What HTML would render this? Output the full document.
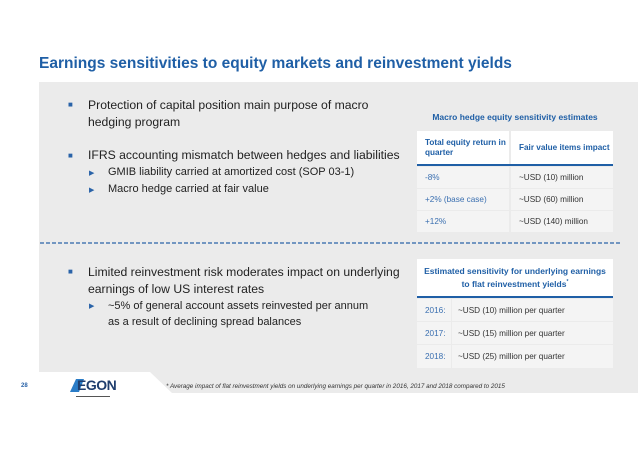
<!DOCTYPE html>
<html><head><meta charset="utf-8"><style>
body{margin:0;width:638px;height:451px;background:#fff;font-family:"Liberation Sans",sans-serif;position:relative;overflow:hidden}
.a{position:absolute;white-space:nowrap}
.t{font-size:12.2px;color:#222}
.b{color:#2a63a8;font-size:8px}
.s{font-size:11px;color:#222}
.ar{color:#2a63a8;font-size:7px}
.c{position:absolute;background:#f4f4f4;font-size:8.2px;color:#333;box-sizing:border-box;padding-left:8px;display:flex;align-items:center}
.bl{color:#3a6fb0}
</style></head><body>
<svg class="a" style="left:0;top:0" width="638" height="451">
<polygon points="39,82 638,82 638,393 172,393 150,372 39,372" fill="#ebebeb"/>
<line x1="40" y1="243" x2="620" y2="243" stroke="#2a63a8" stroke-width="1.3" stroke-dasharray="4,2"/>
</svg>
<div class="a" style="left:39px;top:55px;font-size:15.5px;font-weight:bold;color:#1f5fa6">Earnings sensitivities to equity markets and reinvestment yields</div>

<div class="a b" style="left:68px;top:100px">■</div>
<div class="a t" style="left:88px;top:97px;line-height:17px">Protection of capital position main purpose of macro<br>hedging program</div>
<div class="a b" style="left:68px;top:151px">■</div>
<div class="a t" style="left:88px;top:148px">IFRS accounting mismatch between hedges and liabilities</div>
<div class="a ar" style="left:89px;top:169px">▶</div>
<div class="a s" style="left:108px;top:166px">GMIB liability carried at amortized cost (SOP 03-1)</div>
<div class="a ar" style="left:89px;top:186px">▶</div>
<div class="a s" style="left:108px;top:183px">Macro hedge carried at fair value</div>

<div class="a b" style="left:68px;top:267px">■</div>
<div class="a t" style="left:88px;top:264px;line-height:17px">Limited reinvestment risk moderates impact on underlying<br>earnings of low US interest rates</div>
<div class="a ar" style="left:89px;top:302px">▶</div>
<div class="a s" style="left:108px;top:298px;line-height:16px">~5% of general account assets reinvested per annum<br>as a result of declining spread balances</div>

<div class="a" style="left:417px;top:112px;width:196px;text-align:center;font-size:8.5px;font-weight:bold;color:#1f5fa6">Macro hedge equity sensitivity estimates</div>
<div>
<div class="c" style="left:417px;top:131px;width:92px;height:33px;background:#fff;font-weight:bold;color:#1f5fa6;line-height:10px">Total equity return in<br>quarter</div>
<div class="c" style="left:511px;top:131px;width:102px;height:33px;background:#fff;font-weight:bold;color:#1f5fa6">Fair value items impact</div>
<div class="a" style="left:417px;top:164px;width:196px;height:2px;background:#1f5fa6"></div>
<div class="c bl" style="left:417px;top:167px;width:92px;height:21px">-8%</div>
<div class="c" style="left:511px;top:167px;width:102px;height:21px">~USD (10) million</div>
<div class="c bl" style="left:417px;top:189px;width:92px;height:21px">+2% (base case)</div>
<div class="c" style="left:511px;top:189px;width:102px;height:21px">~USD (60) million</div>
<div class="c bl" style="left:417px;top:211px;width:92px;height:21px">+12%</div>
<div class="c" style="left:511px;top:211px;width:102px;height:21px">~USD (140) million</div>
</div>

<div>
<div class="a" style="left:417px;top:259px;width:196px;height:37px;background:#fff;text-align:center;font-size:8.5px;font-weight:bold;color:#1f5fa6;line-height:11px;padding-top:7px;box-sizing:border-box">Estimated sensitivity for underlying earnings<br>to flat reinvestment yields<sup style="font-size:5px">*</sup></div>
<div class="a" style="left:417px;top:296px;width:196px;height:2px;background:#1f5fa6"></div>
<div class="c bl" style="left:417px;top:299px;width:34px;height:22px">2016:</div>
<div class="c" style="left:452px;top:299px;width:161px;height:22px;padding-left:6px">~USD (10) million per quarter</div>
<div class="c bl" style="left:417px;top:322px;width:34px;height:22px">2017:</div>
<div class="c" style="left:452px;top:322px;width:161px;height:22px;padding-left:6px">~USD (15) million per quarter</div>
<div class="c bl" style="left:417px;top:345px;width:34px;height:23px">2018:</div>
<div class="c" style="left:452px;top:345px;width:161px;height:23px;padding-left:6px">~USD (25) million per quarter</div>
</div>

<div class="a" style="left:21px;top:383px;font-size:6px;color:#2a63a8;font-weight:bold">28</div>
<div class="a" style="left:68px;top:375px">
<svg width="40" height="22" style="position:absolute;left:0;top:0"><polygon points="2,17 8,4 16,4 11,17" fill="#2a7cc7"/></svg>
<div class="a" style="left:9px;top:2px;font-size:14px;font-weight:bold;color:#1f3e6e;letter-spacing:-0.5px">EGON</div>
<div class="a" style="left:8px;top:21px;width:34px;height:1px;background:#555"></div>
</div>
<div class="a" style="left:166px;top:383px;font-size:6.3px;font-style:italic;color:#333">* Average impact of flat reinvestment yields on underlying earnings per quarter in 2016, 2017 and 2018 compared to 2015</div>
</body></html>
